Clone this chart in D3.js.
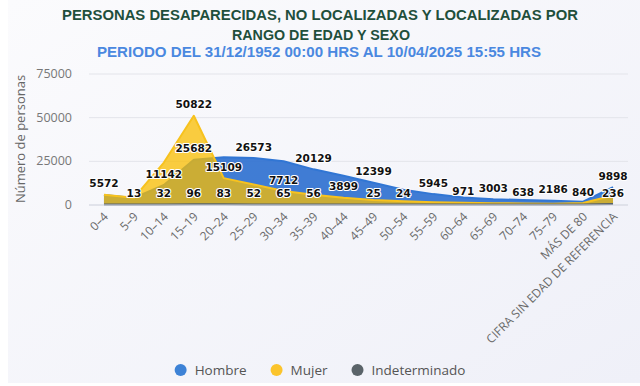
<!DOCTYPE html>
<html>
<head>
<meta charset="utf-8">
<script src="https://cdn.jsdelivr.net/npm/d3@7"></script>
<style>
  html, body { margin: 0; padding: 0; background: #ffffff; }
  svg { display: block; }
</style>
</head>
<body>
<div id="chart"></div>
<script>
// ---------------- DATA ----------------
const categories = ["0–4","5–9","10–14","15–19","20–24","25–29","30–34","35–39","40–44","45–49","50–54","55–59","60–64","65–69","70–74","75–79","MÁS DE 80","CIFRA SIN EDAD DE REFERENCIA"];
const hombre        = [5400, 3700, 11142, 25682, 27000, 26573, 24800, 20129, 16500, 12399, 8500, 5945, 4000, 3003, 2600, 2186, 1600, 9898];
const mujer         = [5572, 3800, 24000, 50822, 15109, 11500, 7712, 5600, 3899, 2600, 1800, 1300, 971, 780, 638, 500, 840, 5200];
const indeterminado = [20, 13, 32, 96, 83, 52, 65, 56, 40, 25, 24, 15, 10, 8, 5, 4, 3, 236];
// data labels that are visible in the reference (others hidden by overlap)
const hombreLabelIdx = [2, 3, 5, 7, 9, 11, 13, 15, 17];
const mujerLabelIdx  = [0, 3, 4, 6, 8, 12, 14, 16];
const indetLabelIdx  = [1, 2, 3, 4, 5, 6, 7, 9, 10, 17];
const yTicks = [0, 25000, 50000, 75000];
const seriesNames = ["Hombre", "Mujer", "Indeterminado"];
const titleLines = ["PERSONAS DESAPARECIDAS, NO LOCALIZADAS Y LOCALIZADAS POR", "RANGO DE EDAD Y SEXO"];
const subtitle = "PERIODO DEL 31/12/1952 00:00 HRS AL 10/04/2025 15:55 HRS";
const yTitle = "Número de personas";

// ---------------- LAYOUT ----------------
const W = 640, H = 386;
const plot = { left: 89, right: 628, top: 73.5, bottom: 204.5 };
const colors = {
  Hombre: { fill: "#2c6fcf", line: "#3176d4", dot: "#3d82d6", op: 0.9 },
  Mujer: { fill: "#fabe00", line: "#f7c21e", dot: "#fbc42c", op: 0.75 },
  Indeterminado: { fill: "#56616a", line: "#56616a", dot: "#5a6369", op: 0.75 }
};

const svg = d3.select("#chart").append("svg").attr("width", W).attr("height", H);
const defs = svg.append("defs");
const grad = defs.append("linearGradient").attr("id", "bg").attr("x1", "0").attr("y1", "0").attr("x2", "1").attr("y2", "1");
grad.append("stop").attr("offset", "0").attr("stop-color", "#fbfbfd");
grad.append("stop").attr("offset", "1").attr("stop-color", "#eff0f8");
svg.append("rect").attr("x", 8).attr("y", 0).attr("width", W - 8).attr("height", 383).attr("fill", "url(#bg)");

// Titles
const titleFont = "'Liberation Sans', Arial, sans-serif";
svg.append("text").attr("x", 320).attr("y", 19.5).attr("text-anchor", "middle")
  .attr("font-family", titleFont).attr("font-weight", "bold").attr("font-size", 14.5).attr("fill", "#1f4f3c")
  .attr("textLength", 516).attr("lengthAdjust", "spacingAndGlyphs").text(titleLines[0]);
svg.append("text").attr("x", 321).attr("y", 40).attr("text-anchor", "middle")
  .attr("font-family", titleFont).attr("font-weight", "bold").attr("font-size", 14.5).attr("fill", "#1f4f3c")
  .attr("textLength", 178).attr("lengthAdjust", "spacingAndGlyphs").text(titleLines[1]);
svg.append("text").attr("x", 319).attr("y", 57).attr("text-anchor", "middle")
  .attr("font-family", titleFont).attr("font-weight", "bold").attr("font-size", 14.5).attr("fill", "#4a88e0")
  .attr("textLength", 444).attr("lengthAdjust", "spacingAndGlyphs").text(subtitle);

// Scales
const x = d3.scaleBand().domain(categories).range([plot.left, plot.right]);
const cx = d => x(d) + x.bandwidth() / 2;
const y = d3.scaleLinear().domain([0, 75000]).range([plot.bottom, plot.top]);

const axisFont = "'Open Sans', 'DejaVu Sans', sans-serif";

// Gridlines + y axis
const yAxis = d3.axisLeft(y).tickValues(yTicks).tickSize(-(plot.right - plot.left)).tickFormat(d3.format("d"));
const gy = svg.append("g").attr("transform", `translate(${plot.left},0)`).call(yAxis);
gy.select(".domain").remove();
gy.selectAll(".tick line").attr("stroke", "#e3e4ea").attr("stroke-width", 1);
gy.selectAll(".tick text").attr("x", -17).attr("font-family", axisFont).attr("font-size", 12.5).attr("fill", "#777");

// y-axis title
svg.append("text").attr("transform", `translate(25,139) rotate(-90)`).attr("text-anchor", "middle")
  .attr("font-family", axisFont).attr("font-size", 13).attr("fill", "#666").text(yTitle);

// Series
const seriesData = [hombre, mujer, indeterminado];
const area = d3.area().x((d, i) => cx(categories[i])).y0(y(0)).y1(d => y(d));
const line = d3.line().x((d, i) => cx(categories[i])).y(d => y(d));

seriesData.forEach((vals, si) => {
  const c = colors[seriesNames[si]];
  const g = svg.append("g");
  g.append("path").datum(vals).attr("d", area).attr("fill", c.fill).attr("fill-opacity", c.op);
  g.append("path").datum(vals).attr("d", line).attr("fill", "none").attr("stroke", c.line).attr("stroke-width", 2).attr("stroke-linejoin", "round");
});

// x axis line
svg.append("line").attr("x1", plot.left).attr("x2", plot.right).attr("y1", y(0) + 0.5).attr("y2", y(0) + 0.5)
  .attr("stroke", "#d5d8e2").attr("stroke-width", 1);

// x tick labels (rotated)
const xAxis = d3.axisBottom(x).tickSize(0).tickPadding(0);
const gx = svg.append("g").attr("transform", `translate(0,${plot.bottom})`).call(xAxis);
gx.select(".domain").remove();
gx.selectAll(".tick text")
  .attr("font-family", axisFont).attr("font-size", 12).attr("fill", "#6a6a6a")
  .attr("text-anchor", "end").attr("dy", 0).attr("y", 0)
  .attr("transform", "translate(5,13) rotate(-45)");

// Data labels
const labelSets = [[hombre, hombreLabelIdx], [mujer, mujerLabelIdx], [indeterminado, indetLabelIdx]];
const lg = svg.append("g");
labelSets.forEach(([vals, idx]) => {
  idx.forEach(i => {
    lg.append("text").attr("x", cx(categories[i])).attr("y", y(vals[i]) - 7.5)
      .attr("text-anchor", "middle").attr("font-family", "'DejaVu Sans', sans-serif").attr("font-weight", "bold")
      .attr("font-size", 10.5).attr("fill", "#111").attr("stroke", "#ffffff").attr("stroke-width", 2.2)
      .attr("stroke-linejoin", "round").attr("paint-order", "stroke").text(vals[i]);
  });
});

// Legend
const legend = svg.append("g");
let lx = 0;
seriesNames.forEach((n) => {
  const it = legend.append("g").attr("transform", `translate(${lx},0)`);
  it.append("circle").attr("cx", 6).attr("cy", 0).attr("r", 6).attr("fill", colors[n].dot);
  const t = it.append("text").attr("x", 20).attr("y", 4.5).attr("font-family", axisFont).attr("font-size", 13.5)
    .attr("fill", "#555").text(n);
  lx += 20 + t.node().getComputedTextLength() + 24;
});
const lw = legend.node().getBBox().width;
legend.attr("transform", `translate(${320 - lw / 2},370)`);
</script>
</body>
</html>
